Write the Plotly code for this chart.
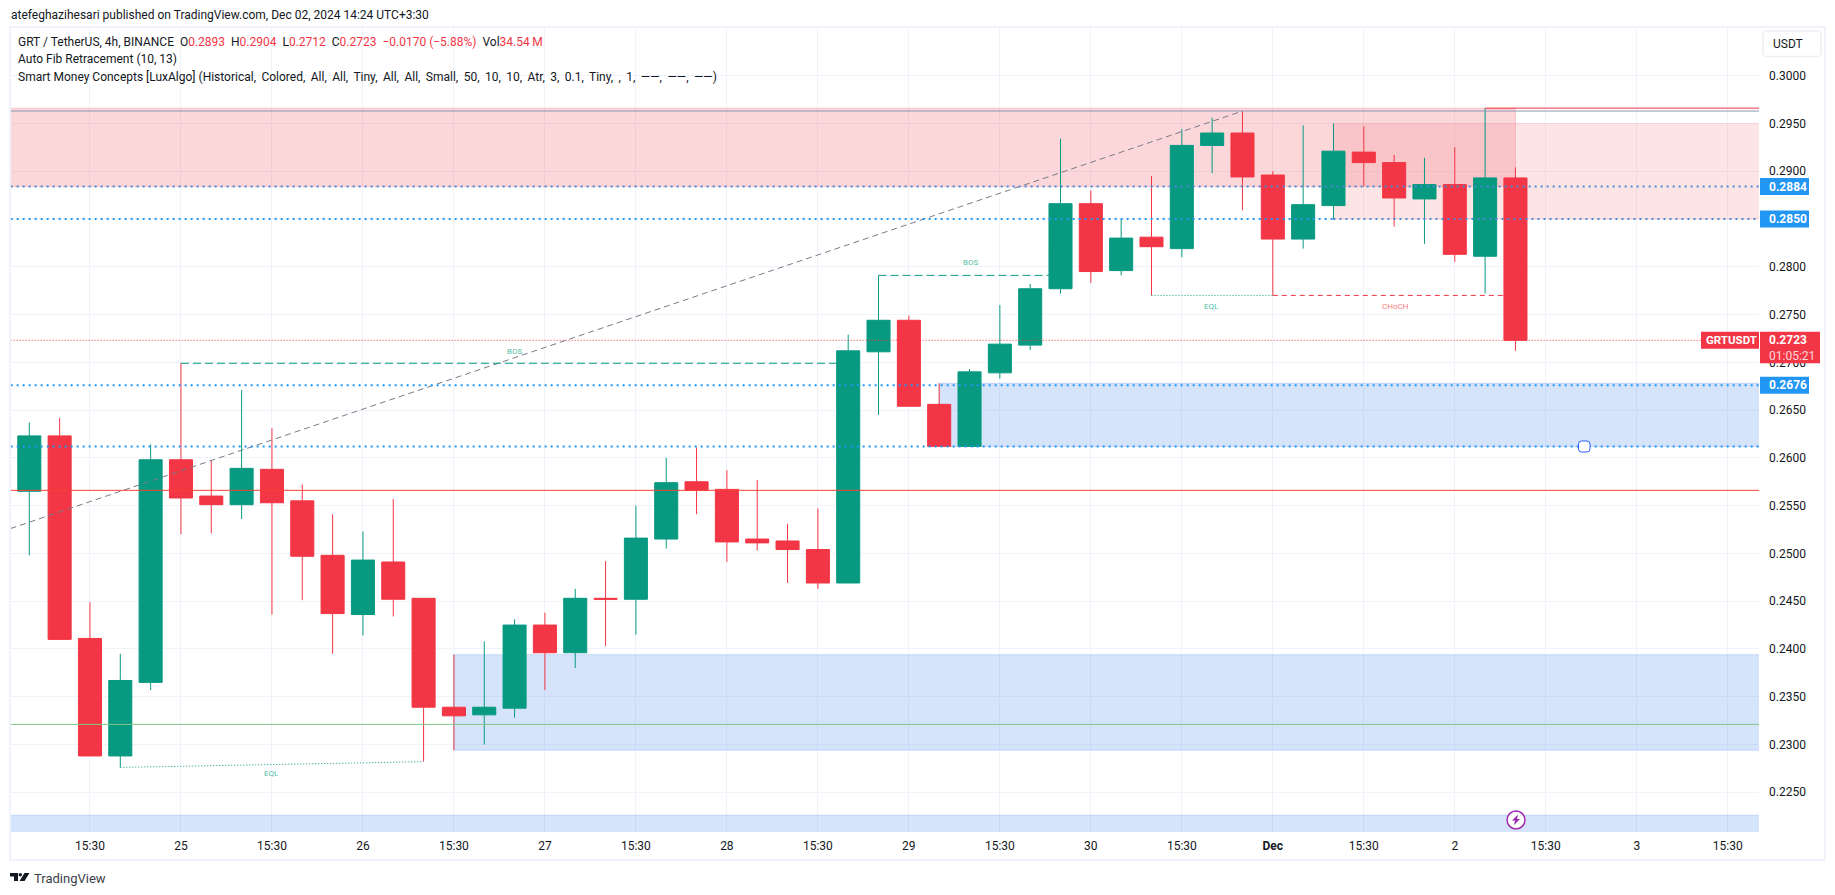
#!/usr/bin/env python

import plotly.graph_objs as go

W = 1835
H = 895

GREEN = "#089981"
RED = "#f23645"
BLUE = "#2196f3"
BLUE_ON_PINK = "#4a88d8"
TEXT = "#131722"
FONT = "Roboto"

# candles, one per 4h bar
opens = [0.2565, 0.2623, 0.2411, 0.2288, 0.2365, 0.2598, 0.2560, 0.2551, 0.2588, 0.2555,
         0.2498, 0.2436, 0.2491, 0.2453, 0.2339, 0.2331, 0.2338, 0.2425, 0.2396, 0.2453,
         0.2452, 0.2515, 0.2575, 0.2567, 0.2515, 0.2513, 0.2504, 0.2469, 0.2711, 0.2744,
         0.2656, 0.2612, 0.2689, 0.2718, 0.2777, 0.2866, 0.2796, 0.2831, 0.2819, 0.2927,
         0.2940, 0.2896, 0.2829, 0.2864, 0.2920, 0.2909, 0.2871, 0.2886, 0.2811, 0.2893]
highs = [0.2637, 0.2642, 0.2449, 0.2395, 0.2614, 0.2699, 0.2597, 0.2671, 0.2631, 0.2572,
         0.2541, 0.2523, 0.2557, 0.2453, 0.2394, 0.2408, 0.2431, 0.2438, 0.2463, 0.2492,
         0.2550, 0.2600, 0.2611, 0.2587, 0.2577, 0.2531, 0.2547, 0.2729, 0.2791, 0.2749,
         0.2678, 0.2693, 0.2760, 0.2782, 0.2934, 0.2880, 0.2850, 0.2895, 0.2944, 0.2956,
         0.2963, 0.2900, 0.2948, 0.2950, 0.2947, 0.2917, 0.2914, 0.2925, 0.2966, 0.2904]
lows = [0.2498, 0.2410, 0.2288, 0.2276, 0.2357, 0.2520, 0.2521, 0.2536, 0.2436, 0.2451,
        0.2395, 0.2414, 0.2434, 0.2282, 0.2294, 0.2300, 0.2328, 0.2357, 0.2380, 0.2403,
        0.2415, 0.2505, 0.2541, 0.2491, 0.2503, 0.2469, 0.2463, 0.2469, 0.2645, 0.2654,
        0.2612, 0.2612, 0.2683, 0.2713, 0.2772, 0.2783, 0.2791, 0.2770, 0.2810, 0.2898,
        0.2859, 0.2770, 0.2819, 0.2850, 0.2884, 0.2842, 0.2824, 0.2805, 0.2772, 0.2712]
closes = [0.2623, 0.2410, 0.2288, 0.2367, 0.2598, 0.2558, 0.2551, 0.2589, 0.2553, 0.2497,
          0.2437, 0.2493, 0.2452, 0.2339, 0.2330, 0.2339, 0.2425, 0.2396, 0.2453, 0.2452,
          0.2516, 0.2574, 0.2566, 0.2512, 0.2511, 0.2504, 0.2469, 0.2712, 0.2744, 0.2654,
          0.2612, 0.2690, 0.2719, 0.2777, 0.2866, 0.2795, 0.2830, 0.2821, 0.2927, 0.2940,
          0.2894, 0.2829, 0.2865, 0.2921, 0.2909, 0.2872, 0.2886, 0.2813, 0.2893, 0.2723]
bars = list(range(len(opens)))

# axis ticks
x_tick_bars = [2, 5, 8, 11, 14, 17, 20, 23, 26, 29, 32, 35, 38, 41, 44, 47, 50, 53, 56]
x_tick_labels = ["15:30", "25", "15:30", "26", "15:30", "27", "15:30", "28", "15:30", "29",
                 "15:30", "30", "15:30", "<b>Dec</b>", "15:30", "2", "15:30", "3", "15:30"]
y_ticks = [0.3000, 0.2950, 0.2900, 0.2850, 0.2800, 0.2750, 0.2700, 0.2650, 0.2600, 0.2550,
           0.2500, 0.2450, 0.2400, 0.2350, 0.2300, 0.2250]

# order blocks: first bar, top, bottom
supply_start = [-2, 43]
supply_top = [0.2966, 0.2950]
supply_bottom = [0.2884, 0.2850]
demand_start = [30, 14, -2]
demand_top = [0.2678, 0.2394, 0.2226]
demand_bottom = [0.2612, 0.2294, 0.2150]

# level lines
level_2884 = 0.2884
level_2850 = 0.2850
level_2676 = 0.2676
level_2612 = 0.2612
last_price = 0.2723
red_level = 0.2566
green_level = 0.2321
top_level = 0.2963
strong_high = 0.2966

fib_x = [-0.62, 40]
fib_y = [0.2526, 0.2963]

bos_x = [[5, 27], [28, 34]]
bos_y = [[0.2699, 0.2699], [0.2791, 0.2791]]
eql_x = [[3, 13], [37, 41]]
eql_y = [[0.2276, 0.2282], [0.2770, 0.2770]]
choch_x = [41, 49]
choch_y = [0.2770, 0.2770]
RIGHT_BAR = 58


def px(x):
    return x / W


def py(y):
    return 1 - y / H


def path(points):
    return "M " + " L ".join("{} {}".format(px(x), py(y)) for x, y in points) + " Z"


def rounded(x0, y0, x1, y1, r):
    return ("M {} {} L {} {} Q {} {} {} {} L {} {} Q {} {} {} {} "
            "L {} {} Q {} {} {} {} L {} {} Q {} {} {} {} Z").format(
        px(x0 + r), py(y0), px(x1 - r), py(y0), px(x1), py(y0), px(x1), py(y0 + r),
        px(x1), py(y1 - r), px(x1), py(y1), px(x1 - r), py(y1),
        px(x0 + r), py(y1), px(x0), py(y1), px(x0), py(y1 - r),
        px(x0), py(y0 + r), px(x0), py(y0), px(x0 + r), py(y0))


def line(x, y, color, width=1, dash="solid"):
    return go.Scatter(x=x, y=y, mode="lines", hoverinfo="skip",
                      line=dict(color=color, width=width, dash=dash))


def chrome(d, fill, color="rgba(0,0,0,0)", width=0):
    return dict(type="path", path=d, xref="paper", yref="paper", fillcolor=fill,
                line=dict(color=color, width=width), layer="above")


def label(x, y, text, size=12, color=TEXT, yref="paper", xanchor="left"):
    return dict(x=x, y=y, xref="paper", yref=yref, text=text, showarrow=False,
                xanchor=xanchor, yanchor="middle",
                font=dict(family=FONT, size=size, color=color))


def price_tag(price, x0, x1, up, down, color):
    return dict(type="rect", xref="paper", yref="y", xsizemode="pixel", ysizemode="pixel",
                xanchor=px(x0), yanchor=price, x0=0, x1=x1 - x0, y0=-down, y1=up,
                fillcolor=color, line=dict(width=0), layer="above")


traces = list()
traces.append(line(fib_x, fib_y, "#787b86", 1, "6px,4px"))
traces.append(line([-2, RIGHT_BAR], [red_level, red_level], "#f44336", 1))
traces.append(line([-2, RIGHT_BAR], [green_level, green_level], "#81c784", 1))
traces.append(line([-2, RIGHT_BAR], [top_level, top_level], "#8f95b5", 1))
traces.append(line([48, RIGHT_BAR], [strong_high, strong_high], RED, 1))
traces.append(line([-2, RIGHT_BAR], [last_price, last_price], RED, 1, "1px,2px"))
traces.append(line([-2, RIGHT_BAR], [level_2884, level_2884], BLUE_ON_PINK, 2, "2px,4px"))
traces.append(line([-2, 43], [level_2850, level_2850], BLUE, 2, "2px,4px"))
traces.append(line([43, RIGHT_BAR], [level_2850, level_2850], BLUE_ON_PINK, 2, "2px,4px"))
traces.append(line([-2, RIGHT_BAR], [level_2676, level_2676], BLUE, 2, "2px,4px"))
for x, y in zip(bos_x, bos_y):
    traces.append(line(x, y, GREEN, 1, "8px,4px"))
for x, y in zip(eql_x, eql_y):
    traces.append(line(x, y, GREEN, 1, "1px,2px"))
traces.append(line(choch_x, choch_y, RED, 1, "5px,4px"))

traces.append(go.Candlestick(x=bars, open=opens, high=highs, low=lows, close=closes,
                             hoverinfo="skip", whiskerwidth=0,
                             increasing=dict(line=dict(color=GREEN, width=1), fillcolor=GREEN),
                             decreasing=dict(line=dict(color=RED, width=1), fillcolor=RED)))
traces.append(line([-2, RIGHT_BAR], [level_2612, level_2612], BLUE, 2, "2px,4px"))

shapes = list()
supply_colors = ["rgba(242,54,69,0.2)", "rgba(247,124,128,0.2)"]
for start, top, bottom, color in zip(supply_start, supply_top, supply_bottom, supply_colors):
    end = 49 if start < 0 else RIGHT_BAR
    shapes.append(dict(type="rect", xref="x", yref="y", x0=start, x1=end, y0=bottom, y1=top,
                       fillcolor=color, line=dict(width=1, color=color), layer="between"))
for start, top, bottom in zip(demand_start, demand_top, demand_bottom):
    shapes.append(dict(type="rect", xref="x", yref="y", x0=start, x1=RIGHT_BAR, y0=bottom, y1=top,
                       fillcolor="rgba(33,110,235,0.19)",
                       line=dict(width=1, color="rgba(33,110,235,0.19)"), layer="between"))

# widget frame, USDT button, drag handle
shapes.append(dict(type="rect", xref="paper", yref="paper", x0=px(10), x1=px(1825), y0=py(860), y1=py(27),
                   line=dict(color="#f0f3fa", width=2), layer="above"))
shapes.append(chrome(rounded(1763, 31, 1821, 56.5, 4), "#ffffff", "#eef0f5", 1.5))
shapes.append(chrome(rounded(1578.5, 441, 1590, 452, 3), "#ffffff", "#2962ff", 1))

# bolt icon
shapes.append(dict(type="circle", xref="paper", yref="paper", x0=px(1506), x1=px(1526),
                   y0=py(830), y1=py(810), fillcolor="#ffffff", line=dict(color="#ffffff", width=0),
                   layer="above"))
shapes.append(dict(type="circle", xref="paper", yref="paper", x0=px(1507), x1=px(1525),
                   y0=py(829), y1=py(811), fillcolor="#ffffff", line=dict(color="#9c27b0", width=1.5),
                   layer="above"))
shapes.append(chrome(path([(1518, 814.5), (1512, 820.5), (1515, 820.5), (1514, 825),
                           (1520, 819), (1517, 819)]), "#9c27b0"))

# TradingView logo
shapes.append(chrome(path([(10, 873), (18, 873), (18, 881), (14, 881), (14, 876.5), (10, 876.5)]), TEXT))
shapes.append(dict(type="circle", xref="paper", yref="paper", x0=px(18.6), x1=px(22), y0=py(876.4), y1=py(873),
                   fillcolor=TEXT, line=dict(width=0), layer="above"))
shapes.append(chrome(path([(24.5, 873), (29.5, 873), (24.5, 881), (19.5, 881)]), TEXT))

# price scale tags
for level in [level_2884, level_2850, level_2676]:
    shapes.append(price_tag(level, 1760, 1809, 8.5, 8.5, BLUE))
shapes.append(price_tag(last_price, 1701, 1759, 8.5, 8.5, RED))
shapes.append(price_tag(last_price, 1760, 1820, 8.5, 23, RED))

sep = "\u00a0\u00a0"
red_span = '<span style="color:{}">'.format(RED)
legend_top = ("GRT / TetherUS, 4h, BINANCE" + sep + "O" + red_span + "0.2893</span>" + sep
              + "H" + red_span + "0.2904</span>" + sep + "L" + red_span + "0.2712</span>" + sep
              + "C" + red_span + "0.2723</span>" + sep + red_span + "\u22120.0170 (\u22125.88%)</span>" + sep
              + "Vol" + red_span + "34.54\u2009M</span>")
legend_smc = ("Smart Money Concepts [LuxAlgo] (Historical, Colored, All, All, Tiny, All, All, "
              "Small, 50, 10, 10, Atr, 3, 0.1, Tiny, , 1, \u2014\u2014, \u2014\u2014, \u2014\u2014)")
legend_smc = legend_smc.replace(", ", ",\u2009 ")

annotations = [
    label(px(9), py(15), "atefeghazihesari published on TradingView.com, Dec 02, 2024 14:24 UTC+3:30"),
    label(px(16), py(41.5), legend_top),
    label(px(16), py(59), "Auto Fib Retracement (10, 13)"),
    label(px(16), py(76.5), legend_smc),
    label(px(1771), py(44), "USDT"),
    label(px(32), py(878.5), "TradingView", size=13, color="#3a3e4a"),
    label(px(514), py(351.7), "BOS", size=8, color="#54bda9", xanchor="center"),
    label(px(970), py(262.7), "BOS", size=8, color="#54bda9", xanchor="center"),
    label(px(271.7), py(773.7), "EQL", size=8, color="#54bda9", xanchor="center"),
    label(px(1211.5), py(306.7), "EQL", size=8, color="#54bda9", xanchor="center"),
    label(px(1395), py(306.5), "CHoCH", size=8, color="#f77c80", xanchor="center"),
    label(px(1766.5), level_2884, "<b>0.2884</b>", color="#ffffff", yref="y"),
    label(px(1766.5), level_2850, "<b>0.2850</b>", color="#ffffff", yref="y"),
    label(px(1766.5), level_2676, "<b>0.2676</b>", color="#ffffff", yref="y"),
    label(px(1703.5), last_price, "<b>GRTUSDT</b>", size=11.5, color="#ffffff", yref="y"),
    label(px(1766.5), last_price, "<b>0.2723</b>", color="#ffffff", yref="y"),
    label(px(1766.5), py(355.7), "01:05:21", color="rgba(255,255,255,0.8)"),
]

layout = go.Layout(
    width=W, height=H,
    margin=dict(l=0, r=0, t=0, b=0),
    paper_bgcolor="#ffffff", plot_bgcolor="#ffffff",
    showlegend=False, hovermode=False,
    boxgap=0.24, boxgroupgap=0,
    font=dict(family=FONT, size=12, color=TEXT),
    xaxis=dict(domain=[px(10.5), px(1759)], range=[-0.62, 57.03], rangeslider=dict(visible=False),
               tickmode="array", tickvals=x_tick_bars, ticktext=x_tick_labels, tickangle=0,
               showgrid=True, gridcolor="#f0f3fa", gridwidth=1, zeroline=False, showline=False,
               ticks="", ticklabelstandoff=5, tickfont=dict(family=FONT, size=12, color=TEXT)),
    yaxis=dict(domain=[py(832), py(28)], range=[0.22084, 0.30499], side="right",
               tickmode="array", tickvals=y_ticks, ticktext=["{:.4f}".format(t) for t in y_ticks],
               showgrid=True, gridcolor="#f0f3fa", gridwidth=1, zeroline=False, showline=False,
               ticks="", ticklabelstandoff=9, tickfont=dict(family=FONT, size=12, color=TEXT)),
    shapes=shapes,
    annotations=annotations,
)

fig = go.Figure(data=traces, layout=layout)
fig.write_html("out.html", config=dict(displayModeBar=False),
               post_script="document.body.style.margin='0';document.body.style.overflow='hidden';")
